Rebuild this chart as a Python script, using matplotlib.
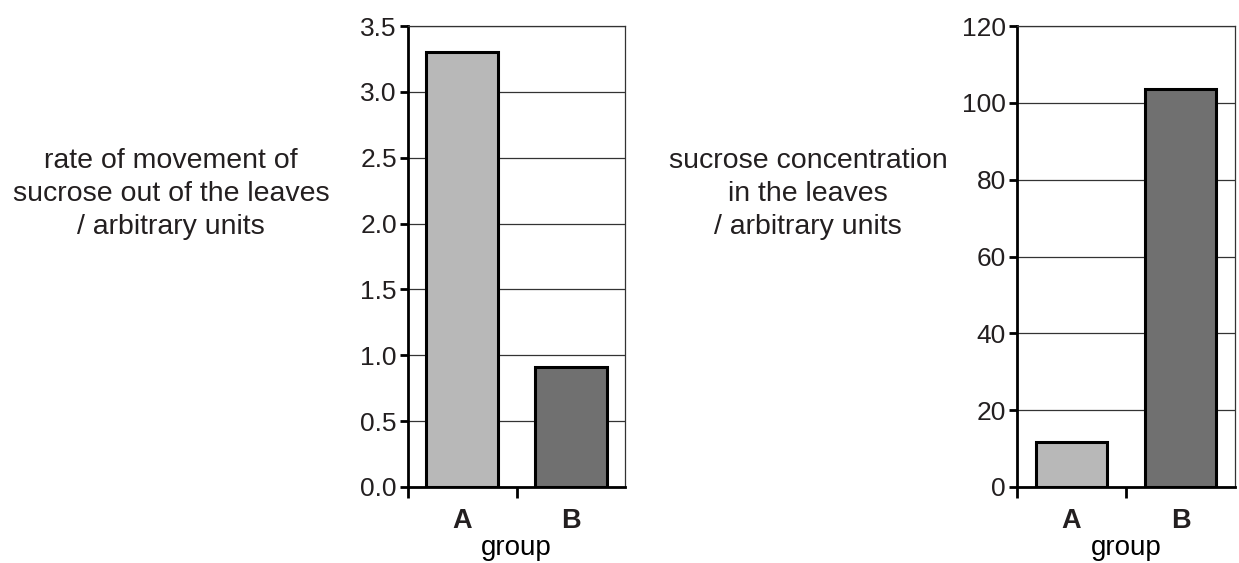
import numpy as np
import matplotlib.pyplot as plt

plt.rcParams['font.family'] = ['Liberation Sans', 'DejaVu Sans']
plt.rcParams['text.color'] = '#231f20'

groups = ['A', 'B']
rate_values = [3.30, 0.91]
conc_values = [11.7, 103.6]
bar_colors = ['#b8b8b8', '#707070']

fig = plt.figure(figsize=(12.39, 5.63), dpi=100)
W, H = 1239, 563

def make_axes(x0, x1, y0, y1):
    return fig.add_axes([x0 / W, 1 - y1 / H, (x1 - x0) / W, (y1 - y0) / H])

ax1 = make_axes(408, 625, 26, 487)
ax2 = make_axes(1017, 1235, 26, 487)

def style(ax, values, ymax, step, fmt, label, label_x):
    x = np.arange(len(groups))
    ax.set_axisbelow(True)
    ax.yaxis.grid(True, color='#333333', linewidth=0.9)
    ax.bar(x, values, width=0.66, color=bar_colors, edgecolor='black', linewidth=2.2, zorder=3)
    ax.set_xlim(-0.5, 1.5)
    ax.set_ylim(0, ymax)
    ticks = np.arange(0, ymax + step / 2, step)
    ax.set_yticks(ticks)
    ax.set_yticklabels([fmt.format(t) for t in ticks], fontsize=19, color='#231f20')
    ax.set_xticks([-0.5, 0.5])
    ax.set_xticklabels([])
    ax.set_xticks(x, minor=True)
    ax.set_xticklabels(groups, minor=True, fontsize=19.5, fontweight='bold', color='#231f20')
    ax.tick_params(axis='x', which='minor', length=0, pad=15)
    ax.tick_params(axis='x', which='major', length=8, width=2, direction='out')
    ax.tick_params(axis='y', length=6, width=2, direction='out', pad=2)
    for s in ['left', 'bottom']:
        ax.spines[s].set_linewidth(2)
        ax.spines[s].set_color('black')
    for s in ['top', 'right']:
        ax.spines[s].set_linewidth(0.9)
        ax.spines[s].set_color('#333333')
    ax.set_xlabel('group', fontsize=20, va='center')
    ax.xaxis.set_label_coords(0.5, -61 / 461)
    fig.text(label_x / W, 1 - 194 / H, label, ha='center', va='center',
             fontsize=20.5, linespacing=1.36)

style(ax1, rate_values, 3.5, 0.5, '{:.1f}',
      'rate of movement of\nsucrose out of the leaves\n/ arbitrary units', 171)
style(ax2, conc_values, 120, 20, '{:.0f}',
      'sucrose concentration\nin the leaves\n/ arbitrary units', 808)

fig.savefig('out.png', dpi=100)
